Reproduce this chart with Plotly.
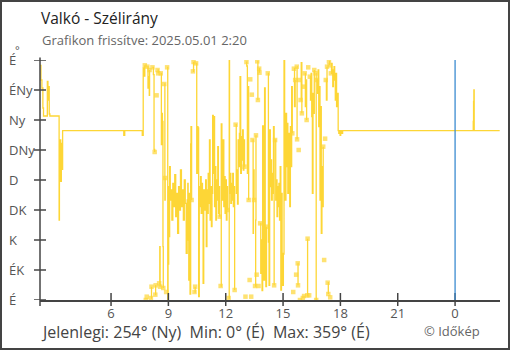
import plotly.graph_objects as go

# ---------------- data ----------------
title_text = "Valkó - Szélirány"
subtitle_text = "Grafikon frissítve: 2025.05.01 2:20"
footer_text = "Jelenlegi: 254° (Ny)  Min: 0° (É)  Max: 359° (É)"
credit_text = "© Időkép"

y_tick_vals = [0, 45, 90, 135, 180, 225, 270, 315, 360]
y_tick_text = ["É", "ÉK", "K", "DK", "D", "DNy", "Ny", "ÉNy", "É"]

x_tick_vals = ["2025-04-30 06:00", "2025-04-30 09:00", "2025-04-30 12:00",
               "2025-04-30 15:00", "2025-04-30 18:00", "2025-04-30 21:00",
               "2025-05-01 00:00"]
x_tick_text = ["6", "9", "12", "15", "18", "21", "0"]
x_range = ["2025-04-30 02:17", "2025-05-01 02:21"]
midnight = "2025-05-01 00:00"

# wind direction (degrees), None = no direction (calm)
times_day1 = [
    "02:17", "02:20", "02:23", "02:26", "02:28", "02:40", "02:42", "02:43", "02:46", "02:48",
    "03:16", "03:17", "03:18", "03:20", "03:21", "03:22", "03:24", "03:26", "03:28",
    "06:40", "06:43", "07:38",
    "07:41", "07:44", "07:46", "07:48", "07:49", "07:51", "07:52", "07:53", "07:54", "07:56",
    "07:58", "08:00", "08:01", "08:03", "08:05", "08:07", "08:08", "08:10", "08:13", "08:15",
    "08:17", "08:18", "08:19", "08:20", "08:22", "08:23", "08:24", "08:26", "08:28", "08:30",
    "08:31", "08:33", "08:34", "08:35", "08:36", "08:38", "08:40", "08:41", "08:43", "08:44",
    "08:45", "08:47", "08:49", "08:50", "08:52", "08:53", "08:54", "08:56", "08:58", "08:59",
    "09:01", "09:03", "09:04", "09:06", "09:08", "09:11", "09:14", "09:17", "09:20", "09:23",
    "09:26", "09:29", "09:32", "09:35", "09:38", "09:41", "09:44", "09:47", "09:50", "09:53",
    "09:56", "09:59", "10:01", "10:02", "10:04", "10:06", "10:08", "10:10", "10:11", "10:13",
    "10:15", "10:17", "10:19", "10:21", "10:22", "10:24", "10:25", "10:27", "10:29", "10:31",
    "10:33", "10:35", "10:37", "10:39", "10:41", "10:43", "10:45", "10:47", "10:49", "10:51",
    "10:53", "10:55", "10:57", "10:59", "11:01", "11:03", "11:05", "11:07", "11:09", "11:11",
    "11:13", "11:15", "11:17", "11:19", "11:21", "11:23", "11:25", "11:27", "11:29", "11:31",
    "11:33", "11:35", "11:37", "11:39", "11:41", "11:43", "11:44", "11:46", "11:48", "11:50",
    "11:52", "11:54", "11:56", "11:58", "12:00", "12:02", "12:04", "12:06", "12:08", "12:09",
    "12:11", "12:12", "12:14", "12:16", "12:18", "12:20", "12:22", "12:24", "12:26", "12:28",
    "12:30", "12:31", "12:33", "12:35", "12:37", "12:39", "12:41", "12:43", "12:45", "12:47",
    "12:49", "12:51", "12:53", "12:55", "12:57", "12:59", "13:01", "13:02", "13:03", "13:05",
    "13:06", "13:08", "13:10", "13:12", "13:14", "13:15", "13:16", "13:17", "13:19", "13:20",
    "13:21", "13:22", "13:23", "13:24", "13:26", "13:27", "13:29", "13:31", "13:32", "13:34",
    "13:35", "13:36", "13:37", "13:38", "13:39", "13:41", "13:42", "13:43", "13:44", "13:45",
    "13:46", "13:47", "13:48", "13:50", "13:52", "13:54", "13:56", "13:58", "14:00", "14:02",
    "14:04", "14:06", "14:08", "14:10", "14:12", "14:14", "14:16", "14:18", "14:20", "14:22",
    "14:24", "14:26", "14:28", "14:30", "14:32", "14:34", "14:35", "14:37", "14:39", "14:41",
    "14:43", "14:45", "14:47", "14:49", "14:51", "14:53", "14:55", "14:57", "14:59", "15:01",
    "15:03", "15:05", "15:07", "15:09", "15:11", "15:13", "15:15", "15:17", "15:19", "15:21",
    "15:23", "15:25", "15:27", "15:29", "15:31", "15:32", "15:33", "15:34", "15:36", "15:38",
    "15:40", "15:41", "15:42", "15:43", "15:44", "15:45", "15:46", "15:47", "15:48", "15:49",
    "15:50", "15:51", "15:52", "15:53", "15:54", "15:55", "15:57", "15:59", "16:01", "16:02",
    "16:03", "16:04", "16:05", "16:06", "16:07", "16:08", "16:10", "16:12", "16:14", "16:15",
    "16:16", "16:17", "16:18", "16:19", "16:21", "16:22", "16:23", "16:24", "16:26", "16:28",
    "16:30", "16:32", "16:34", "16:36", "16:38", "16:40", "16:42", "16:44", "16:45", "16:46",
    "16:48", "16:50", "16:52", "16:54", "16:56", "16:58", "17:00", "17:02", "17:04", "17:06",
    "17:08", "17:09", "17:10", "17:12", "17:13", "17:14", "17:16", "17:18", "17:19", "17:20",
    "17:22", "17:23", "17:24", "17:26", "17:27", "17:28", "17:29", "17:30", "17:32", "17:34",
    "17:36", "17:38", "17:40", "17:42", "17:44", "17:46", "17:48", "17:50", "17:53", "17:55",
    "17:57", "17:59", "18:01", "18:05", "18:07",
]
dirs_day1 = [
    352, 330, 318, 288, 276, 328, 300, 320, 279, 276,
    276, 120, 202, 180, 240, 178, 235, 196, 254,
    247, 254, 247,
    348, 336, 352, None, 0, None, 5, None, 350, 318,
    335, 307, 345, None, 3, 20, None, 349, 338, 226,
    222, None, 8, 22, None, 307, None, 345, 340, None,
    25, 80, 20, None, 340, 233, 280, 268, 80, 18,
    None, 324, 150, 183, None, 12, None, 349, 0, 54,
    170, 95, 200, 150, 165, 120, 175, 140, 188, 125,
    160, 100, 170, 135, 195, 140, 165, 120, 180, 145,
    70, 150, 175, 90, 30, 160, 9, 234, 260, 150,
    None, 343, 357, None, 12, 20, None, 355, 190, 260,
    258, 5, 170, 140, 185, 130, 175, 155, 25, 165,
    135, 150, 180, 80, 165, 130, 190, 145, 240, 120,
    170, 110, 160, 277, 190, 275, 140, 200, 120, 180,
    150, 230, 130, 170, 125, None, 21, 264, 200, 150,
    240, 140, 185, 130, 180, 120, 170, 135, None, 3,
    360, 160, 190, 145, 175, 150, 190, 140, 170, 15,
    None, 263, 160, 195, 144, 240, 200, 250, 335, 190,
    245, 210, 255, 195, 240, 200, None, 5, None, 357,
    351, 190, 320, 150, None, 30, None, 331, None, 5,
    None, 308, None, 240, 100, 195, 150, None, 21, 120,
    247, None, 38, None, 358, 300, None, 21, None, 347,
    341, None, 115, 40, 90, 14, 261, 100, 30, 318,
    60, 20, 110, None, 340, 87, 22, 255, 170, 210,
    150, 190, 160, 260, 22, None, 240, 150, 180, 125,
    170, 140, 175, 120, 200, 15, 160, 70, 22, 69,
    360, 230, 150, 280, 200, 265, 160, 250, 180, 140,
    260, 200, 320, 250, None, 12, None, 347, 290, 330,
    None, 38, None, 350, 241, None, 55, 22, None, 225,
    None, 330, None, 0, None, 300, 356, 280, None, 3,
    None, 320, None, 6, None, 340, 290, 330, 270, None,
    7, 92, None, 349, None, 7, None, 335, 300, 340,
    275, 160, 310, 280, 345, None, 340, 0, None, 330,
    310, 345, 260, 320, 150, 290, 100, 200, 140, 230,
    None, 60, None, 242, None, 330, 300, 350, None, 26,
    9, None, 358, 352, None, 4, None, 340, 355, 345,
    320, 340, 350, 330, 300, 340, 290, 310, 254, 250,
    254, 247, 254, 250, 254,
]
times_day2 = ["00:57", "00:58", "00:59", "01:00", "02:20"]
dirs_day2 = [268, 298, 315, 254, 254]

# ---------------- build ----------------
x_vals = ["2025-04-30 " + t for t in times_day1] + ["2025-05-01 " + t for t in times_day2]
y_vals = dirs_day1 + dirs_day2

marker_sizes = []
for i, v in enumerate(y_vals):
    prev_v = y_vals[i - 1] if i > 0 else 0
    next_v = y_vals[i + 1] if i < len(y_vals) - 1 else 0
    if v is not None and (prev_v is None or next_v is None):
        marker_sizes.append(4.5)
    else:
        marker_sizes.append(0)

yellow = "#FDD636"
axis_col = "#444444"
label_col = "#555555"
FONT = "Open Sans"

fig = go.Figure()
fig.add_trace(go.Scatter(
    x=x_vals, y=y_vals, mode="lines+markers",
    line=dict(color=yellow, width=1.3, shape="hv"),
    marker=dict(color=yellow, size=marker_sizes, symbol="square", line=dict(width=0)),
    connectgaps=False, hoverinfo="skip", showlegend=False,
))

W, H = 510, 350
ml, mr, mt, mb = 40, 10, 60, 50
pw, ph = W - ml - mr, H - mt - mb

def px_x(px):
    return (px - ml) / pw

def px_y(py):
    return (H - mb - py) / ph

shapes = []
# tick marks crossing the axis lines
for tv in x_tick_vals:
    shapes.append(dict(type="line", xref="x", yref="paper", x0=tv, x1=tv,
                       y0=-6 / ph, y1=7 / ph, line=dict(color=axis_col, width=1.5)))
for yv in y_tick_vals:
    shapes.append(dict(type="line", xref="paper", yref="y", x0=-6 / pw, x1=6 / pw,
                       y0=yv, y1=yv, line=dict(color=axis_col, width=1.5)))
# midnight marker line
shapes.append(dict(type="line", xref="x", yref="paper", x0=midnight, x1=midnight,
                   y0=0, y1=1, line=dict(color="#3b8bd0", width=1.3), layer="above"))
# y axis line (extends slightly below x axis)
shapes.append(dict(type="line", xref="paper", yref="paper", x0=0, x1=0,
                   y0=-6 / ph, y1=1.01, line=dict(color=axis_col, width=1.5)))
# outer border
shapes.append(dict(type="rect", xref="paper", yref="paper",
                   x0=px_x(1), x1=px_x(W - 1), y0=px_y(H - 1), y1=px_y(1),
                   line=dict(color="#444444", width=2)))

annotations = []
for yv, lab in zip(y_tick_vals, y_tick_text):
    annotations.append(dict(xref="paper", yref="y", x=px_x(7), y=yv, text=lab,
                            showarrow=False, xanchor="left", yanchor="middle",
                            font=dict(family=FONT, size=13, color=label_col)))
annotations.append(dict(xref="paper", yref="paper", x=px_x(13), y=px_y(50), text="°",
                        showarrow=False, xanchor="left", yanchor="middle",
                        font=dict(family=FONT, size=11, color=label_col)))
annotations.append(dict(xref="paper", yref="paper", x=px_x(39), y=px_y(18), text=title_text,
                        showarrow=False, xanchor="left", yanchor="middle",
                        font=dict(family=FONT, size=15.5, color="#222222")))
annotations.append(dict(xref="paper", yref="paper", x=px_x(40), y=px_y(40), text=subtitle_text,
                        showarrow=False, xanchor="left", yanchor="middle",
                        font=dict(family=FONT, size=13, color="#666666")))
annotations.append(dict(xref="paper", yref="paper", x=px_x(39), y=px_y(332), text=footer_text,
                        showarrow=False, xanchor="left", yanchor="middle",
                        font=dict(family=FONT, size=16, color="#444444")))
annotations.append(dict(xref="paper", yref="paper", x=px_x(482), y=px_y(331), text=credit_text,
                        showarrow=False, xanchor="right", yanchor="middle",
                        font=dict(family=FONT, size=13, color="#666666")))

fig.update_layout(
    width=W, height=H,
    margin=dict(l=ml, r=mr, t=mt, b=mb, pad=0),
    paper_bgcolor="white", plot_bgcolor="white",
    font=dict(family=FONT, size=13, color=label_col),
    xaxis=dict(type="date", range=x_range, tickvals=x_tick_vals, ticktext=x_tick_text,
               showgrid=False, zeroline=False, showline=True, linecolor=axis_col, linewidth=1.5,
               ticks="", ticklabelstandoff=1,
               tickfont=dict(family=FONT, size=13, color=label_col)),
    yaxis=dict(range=[0, 360], tickvals=y_tick_vals, showticklabels=False,
               showgrid=False, zeroline=False, showline=False, ticks=""),
    shapes=shapes, annotations=annotations,
)

fig.write_html("out.html")
